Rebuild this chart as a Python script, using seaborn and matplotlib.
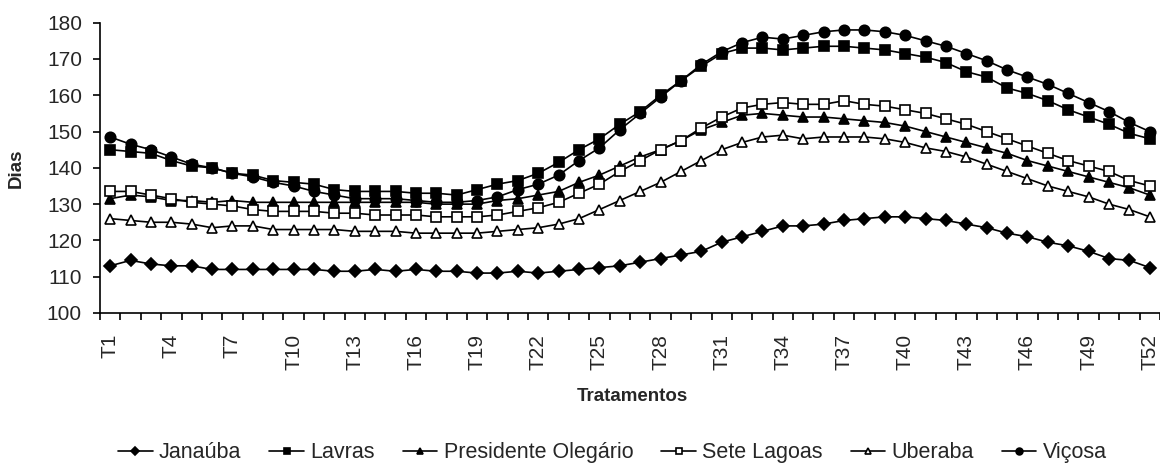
import numpy as np
import pandas as pd
import matplotlib
matplotlib.use('Agg')
import matplotlib.pyplot as plt
import seaborn as sns

# tratamentos T1..T52
treatments = [f"T{i}" for i in range(1, 53)]

janauba = [113, 114.5, 113.5, 113, 113, 112, 112, 112, 112, 112,
           112, 111.5, 111.5, 112, 111.5, 112, 111.5, 111.5, 111, 111,
           111.5, 111, 111.5, 112, 112.5, 113, 114, 115, 116, 117,
           119.5, 121, 122.5, 124, 124, 124.5, 125.5, 126, 126.5, 126.5,
           126, 125.5, 124.5, 123.5, 122, 121, 119.5, 118.5, 117, 115,
           114.5, 112.5]
lavras = [145, 144.5, 144, 142, 140.5, 140, 138.5, 138, 136.5, 136,
          135.5, 134, 133.5, 133.5, 133.5, 133, 133, 132.5, 134, 135.5,
          136.5, 138.5, 141.5, 145, 148, 152, 155.5, 160, 164, 168,
          171.5, 173, 173, 172.5, 173, 173.5, 173.5, 173, 172.5, 171.5,
          170.5, 169, 166.5, 165, 162, 160.5, 158.5, 156, 154, 152,
          149.5, 148]
pres_olegario = [131.5, 132.5, 132, 131, 131, 130.5, 131, 130.5, 130.5, 130.5,
                 130.5, 130.5, 130.5, 130.5, 130.5, 130.5, 130, 130, 130, 131,
                 131.5, 132.5, 133.5, 136, 138, 140.5, 143, 145, 147.5, 150.5,
                 152.5, 154.5, 155, 154.5, 154, 154, 153.5, 153, 152.5, 151.5,
                 150, 148.5, 147, 145.5, 144, 142, 140.5, 139, 137.5, 136,
                 134.5, 132.5]
sete_lagoas = [133.5, 133.5, 132.5, 131.5, 130.5, 130, 129.5, 128.5, 128, 128,
               128, 127.5, 127.5, 127, 127, 127, 126.5, 126.5, 126.5, 127,
               128, 129, 130.5, 133, 135.5, 139, 142, 145, 147.5, 151,
               154, 156.5, 157.5, 158, 157.5, 157.5, 158.5, 157.5, 157, 156,
               155, 153.5, 152, 150, 148, 146, 144, 142, 140.5, 139,
               136.5, 135]
uberaba = [126, 125.5, 125, 125, 124.5, 123.5, 124, 124, 123, 123,
           123, 123, 122.5, 122.5, 122.5, 122, 122, 122, 122, 122.5,
           123, 123.5, 124.5, 126, 128.5, 131, 133.5, 136, 139, 142,
           145, 147, 148.5, 149, 148, 148.5, 148.5, 148.5, 148, 147,
           145.5, 144.5, 143, 141, 139, 137, 135, 133.5, 132, 130,
           128.5, 126.5]
vicosa = [148.5, 146.5, 145, 143, 141, 140, 138.5, 137.5, 136, 135,
          133.5, 132.5, 131.5, 131.5, 131.5, 131, 130.5, 130.5, 131, 132,
          134, 135.5, 138, 142, 145.5, 150.5, 155, 159.5, 164, 168.5,
          172, 174.5, 176, 175.5, 176.5, 177.5, 178, 178, 177.5, 176.5,
          175, 173.5, 171.5, 169.5, 167, 165, 163, 160.5, 158, 155.5,
          152.5, 150]

series_names = ["Janaúba", "Lavras", "Presidente Olegário", "Sete Lagoas", "Uberaba", "Viçosa"]
series_values = [janauba, lavras, pres_olegario, sete_lagoas, uberaba, vicosa]
# marcador, tamanho, preenchido?
marker_styles = [("D", 6.5, True), ("s", 6.5, True), ("^", 7.5, True),
                 ("s", 6.5, False), ("^", 7.5, False), ("o", 7.5, True)]

sns.set_style("ticks")
plt.rcParams['font.family'] = ['Liberation Sans', 'DejaVu Sans']

fig = plt.figure(figsize=(11.6, 4.65), dpi=100)
ax = fig.add_axes([0.0862, 0.3269, 0.9138, 0.6243])

for name, vals, (mk, ms, filled) in zip(series_names, series_values, marker_styles):
    df = pd.DataFrame({"Tratamento": treatments, "Dias": vals})
    sns.lineplot(data=df, x="Tratamento", y="Dias", ax=ax, color="black",
                 linewidth=1.2, marker=mk, markersize=ms,
                 markerfacecolor="black" if filled else "white",
                 markeredgecolor="black", markeredgewidth=1.2,
                 label=name, legend=False)

n = len(treatments)
ax.set_xlim(-0.5, n - 0.5)
ax.set_ylim(100, 180)
ax.set_yticks(np.arange(100, 181, 10))

# labels a cada 3 tratamentos, ticks nas divisas
ax.set_xticks(np.arange(0, n, 3))
ax.set_xticklabels(treatments[::3], rotation=90)
ax.set_xticks(np.arange(-0.5, n, 1), minor=True)
ax.tick_params(axis="x", which="major", length=0, pad=15, labelsize=15)
ax.tick_params(axis="x", which="minor", length=5, width=1.2, color="black", direction="out")
ax.tick_params(axis="y", length=5, width=1.2, color="black", labelsize=15, pad=8)

for s in ["left", "bottom"]:
    ax.spines[s].set_color("black")
    ax.spines[s].set_linewidth(1.2)
sns.despine(ax=ax)

ax.set_xlabel("Tratamentos", fontsize=13.5, fontweight="bold")
ax.set_ylabel("Dias", fontsize=13.5, fontweight="bold")
ax.xaxis.set_label_coords(0.502, -0.258)
ax.yaxis.set_label_coords(-0.0708, 0.5)

handles = ax.get_lines()
fig.legend(handles, series_names, loc="center", bbox_to_anchor=(0.528, 0.026),
           ncol=6, frameon=False, fontsize=15.5, markerscale=0.65,
           handlelength=1.6, handletextpad=0.3, columnspacing=1.3)

fig.savefig("out.png", dpi=100)
plt.close(fig)
